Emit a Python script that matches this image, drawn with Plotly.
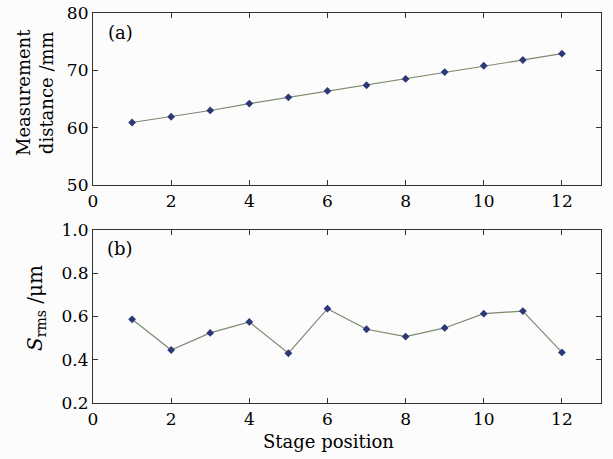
import plotly.graph_objects as go

stage = [1, 2, 3, 4, 5, 6, 7, 8, 9, 10, 11, 12]
distance_mm = [60.9, 61.9, 63.0, 64.2, 65.3, 66.4, 67.4, 68.5, 69.7, 70.8, 71.8, 72.9]
srms_um = [0.587, 0.445, 0.524, 0.575, 0.430, 0.636, 0.541, 0.507, 0.547, 0.613, 0.625, 0.434]

W, H = 613, 459
L, R, T, B = 93, 12, 13, 56
PH = H - T - B
FONT = "DejaVu Serif"
FS = 17
line_col = "#7d8a70"
mk_col = "#2c3878"
frame = "#333333"

def ydom(top_px, bot_px):
    return [(H - B - bot_px) / PH, (H - B - top_px) / PH]

fig = go.Figure()
fig.add_trace(go.Scatter(x=stage, y=distance_mm, mode="lines+markers",
                         line=dict(color=line_col, width=1.2),
                         marker=dict(symbol="diamond", size=6, color=mk_col),
                         xaxis="x", yaxis="y", showlegend=False))
fig.add_trace(go.Scatter(x=stage, y=srms_um, mode="lines+markers",
                         line=dict(color=line_col, width=1.2),
                         marker=dict(symbol="diamond", size=6, color=mk_col),
                         xaxis="x2", yaxis="y2", showlegend=False))

ax_common = dict(showline=True, linecolor=frame, linewidth=1.2, mirror="ticks",
                 ticks="inside", ticklen=5, tickcolor=frame, showgrid=False,
                 zeroline=False, automargin=False,
                 tickfont=dict(family=FONT, size=FS, color="#000"))

fig.update_layout(
    width=W, height=H, autosize=False, margin=dict(l=L, r=R, t=T, b=B, pad=0),
    paper_bgcolor="#fcfcfc", plot_bgcolor="#fcfcfc",
    xaxis=dict(domain=[0, 1], anchor="y", range=[0, 13], tickvals=[0, 2, 4, 6, 8, 10, 12], **ax_common),
    yaxis=dict(domain=ydom(13, 185), anchor="x", range=[50, 80],
               tickvals=[50, 60, 70, 80], **ax_common),
    xaxis2=dict(domain=[0, 1], anchor="y2", range=[0, 13], tickvals=[0, 2, 4, 6, 8, 10, 12], **ax_common),
    yaxis2=dict(domain=ydom(230, 403), anchor="x2", range=[0.2, 1.0],
                tickvals=[0.2, 0.4, 0.6, 0.8, 1.0], tickformat=".1f", **ax_common),
)

tf = dict(family=FONT, size=18, color="#000")

def ann_px(xp, yp, text, font, angle=0):
    fig.add_annotation(x=(xp - L) / (W - L - R), y=(H - B - yp) / PH,
                       xref="paper", yref="paper", text=text,
                       showarrow=False, font=font, textangle=angle,
                       xanchor="center", yanchor="middle")

ann_px(120, 32, "(a)", tf)
ann_px(120, 248, "(b)", tf)
ann_px(35, 93, "Measurement<br>distance /mm", tf, -90)
ann_px(36, 308, "<i>S</i><sub>rms</sub> /μm", dict(family=FONT, size=20, color="#000"), -90)
ann_px(328, 441, "Stage position", tf)

fig.write_html("out.html")
